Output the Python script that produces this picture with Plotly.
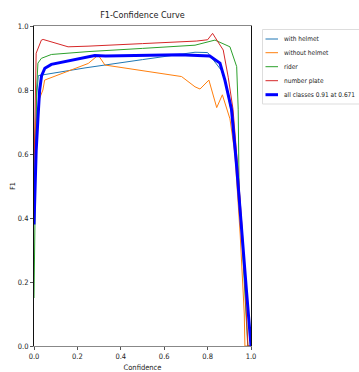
import plotly.graph_objects as go

names = ["with helmet", "without helmet", "rider", "number plate", "all classes 0.91 at 0.671"]
colors = ["#1f77b4", "#ff7f0e", "#2ca02c", "#d62728", "#0000ff"]

x_helmet = [0, 0.005, 0.012, 0.02, 0.235, 0.5, 0.742, 0.80, 0.865, 0.88, 0.91, 0.934, 0.957, 0.98, 0.995, 1.0]
y_helmet = [0.45, 0.62, 0.78, 0.845, 0.869, 0.895, 0.918, 0.917, 0.86, 0.83, 0.73, 0.56, 0.36, 0.17, 0.03, 0.0]

x_nohelmet = [0, 0.008, 0.018, 0.026, 0.041, 0.049, 0.25, 0.296, 0.327, 0.68, 0.742, 0.765, 0.806, 0.842, 0.868, 0.903, 0.926, 0.95, 0.969, 0.972, 1.0]
y_nohelmet = [0.6, 0.70, 0.74, 0.774, 0.80, 0.831, 0.883, 0.909, 0.878, 0.842, 0.81, 0.803, 0.831, 0.745, 0.785, 0.71, 0.60, 0.35, 0.1, 0.0, 0.0]

x_rider = [0, 0.005, 0.012, 0.018, 0.034, 0.08, 0.249, 0.5, 0.742, 0.834, 0.87, 0.903, 0.934, 0.941, 0.945, 0.96, 0.98, 0.985, 1.0]
y_rider = [0.15, 0.45, 0.80, 0.884, 0.899, 0.911, 0.92, 0.93, 0.94, 0.956, 0.945, 0.935, 0.873, 0.74, 0.50, 0.30, 0.05, 0.0, 0.0]

x_plate = [0, 0.005, 0.01, 0.034, 0.042, 0.157, 0.249, 0.5, 0.75, 0.80, 0.823, 0.848, 0.872, 0.895, 0.917, 0.94, 0.96, 0.986, 1.0]
y_plate = [0.55, 0.82, 0.915, 0.956, 0.958, 0.935, 0.937, 0.945, 0.953, 0.957, 0.977, 0.95, 0.925, 0.84, 0.74, 0.55, 0.36, 0.0, 0.0]

x_all = [0.0, 0.003, 0.01, 0.018, 0.026, 0.035, 0.05, 0.08, 0.15, 0.25, 0.28, 0.33, 0.5, 0.67, 0.81, 0.857, 0.88, 0.895, 0.91, 0.934, 0.957, 0.98, 1.0]
y_all = [0.38, 0.46, 0.61, 0.71, 0.80, 0.845, 0.868, 0.88, 0.89, 0.903, 0.908, 0.906, 0.907, 0.91, 0.906, 0.884, 0.83, 0.78, 0.74, 0.56, 0.35, 0.165, 0.0]

tick_vals = [0.0, 0.2, 0.4, 0.6, 0.8, 1.0]
tick_text = ["0.0", "0.2", "0.4", "0.6", "0.8", "1.0"]

FONT = "Liberation Sans Narrow, DejaVu Sans Condensed, Liberation Sans, sans-serif"
TXT = "#222222"

series = [(x_helmet, y_helmet), (x_nohelmet, y_nohelmet), (x_rider, y_rider), (x_plate, y_plate), (x_all, y_all)]
widths = [1, 1, 1, 1, 3]

# plot-area geometry (pixels) used to place the hand-built legend
L, R, T, B = 34, 251, 26, 346
W, H = R - L, B - T
def px(xp):
    return (xp - L) / W
def py(yp):
    return (B - yp) / H

fig = go.Figure()
for (xs, ys), name, col, w in zip(series, names, colors, widths):
    fig.add_trace(go.Scatter(x=xs, y=ys, mode="lines", name=name,
                             line=dict(color=col, width=w)))

shapes = [dict(type="rect", xref="paper", yref="paper",
               x0=px(262.5), x1=px(362), y0=py(104), y1=py(29.5),
               line=dict(color="#dddddd", width=1), fillcolor="white", layer="above")]
annotations = []
row_y = [39, 52.7, 66.7, 80.7, 94.7]
for name, col, w, ry in zip(names, colors, widths, row_y):
    shapes.append(dict(type="line", xref="paper", yref="paper",
                       x0=px(265.5), x1=px(278), y0=py(ry), y1=py(ry),
                       line=dict(color=col, width=w), layer="above"))
    annotations.append(dict(text=name, xref="paper", yref="paper",
                            x=px(281.5), y=py(ry), xanchor="left", yanchor="middle",
                            showarrow=False, font=dict(size=6.5, color=TXT)))

fig.update_layout(
    width=359, height=372,
    margin=dict(l=L, r=359 - R, t=T, b=372 - B, autoexpand=False),
    plot_bgcolor="white", paper_bgcolor="white",
    font=dict(family=FONT, size=7, color=TXT),
    title=dict(text="F1-Confidence Curve", x=(L + R) / 2 / 359, xanchor="center",
               y=1 - 15 / 372, yanchor="middle", font=dict(size=9, color=TXT)),
    showlegend=False,
    shapes=shapes,
    annotations=annotations,
)
fig.update_xaxes(range=[0, 1], tickvals=tick_vals, ticktext=tick_text,
                 showgrid=False, zeroline=False, showline=True, mirror=True,
                 linecolor="#888888", linewidth=1, ticks="outside", ticklen=3,
                 tickcolor="#555", tickfont=dict(size=7.5, color=TXT), automargin=False,
                 title=dict(text="Confidence", standoff=4, font=dict(size=7.5, color=TXT)))
fig.update_yaxes(range=[0, 1], tickvals=tick_vals, ticktext=tick_text,
                 showgrid=False, zeroline=False, showline=True, mirror=True,
                 linecolor="#111111", linewidth=1, ticks="outside", ticklen=3,
                 tickcolor="#555", tickfont=dict(size=7.5, color=TXT), automargin=False,
                 title=dict(text="F1", standoff=1, font=dict(size=7, color=TXT)))

fig.write_html("out.html")
